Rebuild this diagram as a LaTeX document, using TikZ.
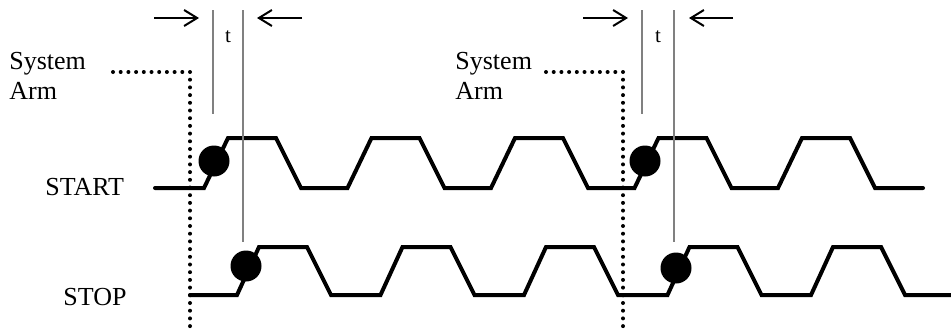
\documentclass[tikz,border=0pt]{standalone}
\usepackage{fontspec}
\setmainfont{Liberation Serif}
\usetikzlibrary{positioning,calc,arrows.meta}
\newcommand{\tlab}[1]{{\fontsize{10.5}{12}\selectfont #1}}
\newcommand{\lo}{188}
\newcommand{\plo}{295}

\tikzset{
  lbl/.style={font=\fontsize{13}{15}\selectfont},
  sig/.style={line width=2pt,line cap=round,line join=miter},
  armline/.style={line width=2pt,line cap=round,dash pattern=on 0pt off 3.85pt},
  tline/.style={draw=gray,line width=0.6pt},
  tarr/.style={-{Straight Barb[length=6.5pt,width=8pt,line width=1pt]},line width=0.55pt},
  edgedot/.style={circle,fill=black,minimum size=15.5pt,inner sep=0pt}
}

\begin{document}
\begin{tikzpicture}[x=0.5pt,y=-0.5pt,inner sep=0pt]
\useasboundingbox (0,0) rectangle (951,332);
\node[lbl,anchor=north west,align=left] (arm1)  at (9,52)    {System\\Arm};
\node[lbl,anchor=north west,align=left] (arm2)  at (455,52)  {System\\Arm};
\node[lbl,anchor=base west]             (start) at (45,195)  {START};
\node[lbl,anchor=base west]             (stop)  at (63,305)  {STOP};
\node[anchor=base]                      (t1)    at (228,42)  {\tlab{t}};
\node[anchor=base]                      (t2)    at (658,42)  {\tlab{t}};
%
\coordinate (a1) at (113,72); \coordinate (a1c) at (190,72); \coordinate (a1e) at (190,332);
\coordinate (a2) at (546,72); \coordinate (a2c) at (623,72); \coordinate (a2e) at (623,332);
\draw[armline] (a1) -- (a1c) -- (a1e);
\draw[armline] (a2) -- (a2c) -- (a2e);
%
\draw[sig] (155,\lo) foreach \r in {204,347.5,491,634.5,778}
  { -- (\r,\lo) -- ++(24,-50) -- ++(48,0) -- ++(25,50) } -- (923,\lo);
\draw[sig] (190,\plo) foreach \r in {237,380.5,524,667.5,811}
  { -- (\r,\plo) -- ++(22,-48) -- ++(48,0) -- ++(24,48) } -- (951,\plo);
%
\node[edgedot] (sa) at (214,161) {};
\node[edgedot] (sb) at (645,161) {};
\node[edgedot] (pa) at (246,266) {};
\node[edgedot] (pb) at (676,268) {};
%
\coordinate (l1) at (213,10);  \coordinate (l1e) at (213,114);
\coordinate (l2) at (243,10);  \coordinate (l2e) at (243,242);
\coordinate (l3) at (642,10);  \coordinate (l3e) at (642,114);
\coordinate (l4) at (674,10);  \coordinate (l4e) at (674,242);
\path[tline] (l1) edge (l1e) (l2) edge (l2e) (l3) edge (l3e) (l4) edge (l4e);
%
\coordinate (r1) at (154,18); \coordinate (r1e) at (199,18);
\coordinate (k1) at (302,18); \coordinate (k1e) at (257,18);
\coordinate (r2) at (583,18); \coordinate (r2e) at (628,18);
\coordinate (k2) at (733,18); \coordinate (k2e) at (689,18);
\path[tarr] (r1) edge (r1e) (k1) edge (k1e) (r2) edge (r2e) (k2) edge (k2e);
\end{tikzpicture}
\end{document}
